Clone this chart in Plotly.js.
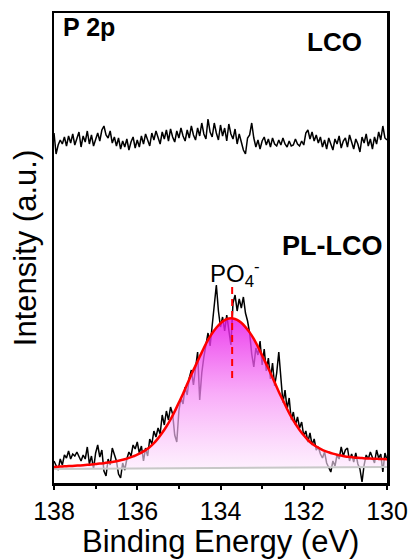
<!DOCTYPE html>
<html>
<head>
<meta charset="utf-8">
<script src="https://cdn.plot.ly/plotly-3.0.1.min.js"></script>
<style>html,body{margin:0;padding:0;background:#fff;}#chart{width:414px;height:559px;}</style>
</head>
<body>
<div id="chart"></div>
<script>
// Binding energy grid for raw spectra (eV), 138 -> 130, step 0.05
const energyRaw = [];
for (let i = 0; i <= 160; i++) energyRaw.push(+(138 - 0.05 * i).toFixed(2));

// LCO spectrum (arb. units, offset)
const lcoIntensity = [
  350,329,338,343,339,346,337,347,340,349,
  338,344,351,336,347,341,352,339,348,337,
  345,350,342,353,357,348,345,352,340,346,
  337,345,334,342,336,344,333,341,346,335,
  343,336,347,339,349,342,337,350,343,352,
  345,339,351,344,353,342,354,346,341,352,
  345,355,347,342,353,345,357,348,343,355,
  347,360,349,344,364,351,346,360,350,343,
  358,347,355,342,359,349,344,354,339,349,
  341,333,329,345,348,360,345,336,343,334,
  342,346,338,344,336,345,339,337,343,338,
  345,339,336,342,337,338,344,339,337,342,
  338,350,353,344,351,342,348,340,346,336,
  343,334,345,338,333,344,339,347,335,342,
  345,336,348,341,334,344,339,331,346,340,
  349,337,344,334,346,339,351,343,357,345,343
];

// PL-LCO spectrum (arb. units)
const pllcoIntensity = [
  22,17,13,24,18,28,25,32,24,29,
  27,31,26,22,28,24,36,19,27,14,
  30,38,26,33,12,7,24,18,35,29,
  22,9,5,20,13,24,31,27,38,34,
  41,30,37,22,35,27,44,39,52,46,
  55,49,68,58,72,63,76,69,48,41,
  72,85,79,96,88,105,113,98,118,131,
  83,110,126,140,150,137,158,176,198,172,
  156,166,152,168,155,138,180,188,172,184,
  175,186,170,162,150,129,116,135,128,142,
  118,134,112,125,104,120,97,110,131,101,
  80,93,74,85,63,71,58,66,55,61,
  47,52,41,50,38,44,33,36,29,25,
  31,20,16,11,22,17,28,24,36,27,
  33,35,22,29,21,30,19,14,1,18,
  28,24,31,26,20,33,25,29,11,30,23
];

// Fit curve (PO4- component), step 0.1 eV
const energyFit = [];
for (let i = 0; i <= 80; i++) energyFit.push(+(138 - 0.1 * i).toFixed(1));
const fitIntensity = [
  16.1,16.3,16.5,16.8,17.0,17.2,17.5,17.8,18.2,18.5,
  18.9,19.4,19.8,20.4,21.1,21.8,22.7,23.8,25.1,26.6,
  28.3,30.4,32.9,35.9,39.8,44.6,50.2,56.5,63.5,71.6,
  80.5,89.3,98.9,108.5,117.4,126.2,135.0,143.1,149.8,155.3,
  159.8,162.9,164.4,164.5,163.1,160.2,155.9,150.6,144.1,136.2,
  127.5,118.9,110.1,100.7,91.3,82.7,74.0,66.0,59.2,53.1,
  47.7,43.0,39.3,36.5,34.2,32.2,30.7,29.4,28.3,27.4,
  26.6,26.1,25.6,25.2,24.9,24.6,24.4,24.3,24.1,23.9,23.8
];

// Background line
const bgEnergy = [138, 130];
const bgIntensity = [14, 16];

// Peak marker
const peakEnergy = [133.72, 133.72];
const peakMarkY = [105, 201];

const xTicks = [138, 136, 134, 132, 130];

const FONT = 'Arial, "Liberation Sans", sans-serif';

const traces = [
  {x: energyRaw, y: pllcoIntensity, type: 'scatter', mode: 'lines',
   line: {color: '#000', width: 1.5}, hoverinfo: 'skip', showlegend: false},
  {x: energyRaw, y: lcoIntensity, type: 'scatter', mode: 'lines',
   line: {color: '#000', width: 1.5}, hoverinfo: 'skip', showlegend: false},
  {x: bgEnergy, y: bgIntensity, type: 'scatter', mode: 'lines',
   line: {color: '#c8c8c8', width: 2}, hoverinfo: 'skip', showlegend: false},
  {x: energyFit, y: fitIntensity, type: 'scatter', mode: 'lines',
   line: {color: '#ff0000', width: 2.5, shape: 'spline'},
   fill: 'tonexty',
   fillgradient: {type: 'vertical',
     colorscale: [[0, 'rgba(253,230,253,0.6)'], [0.5, 'rgba(246,140,246,0.72)'], [1, 'rgba(232,20,232,0.82)']]},
   hoverinfo: 'skip', showlegend: false},
  {x: peakEnergy, y: peakMarkY, type: 'scatter', mode: 'lines',
   line: {color: '#ff0000', width: 2, dash: '7px,5px'}, hoverinfo: 'skip', showlegend: false}
];

const layout = {
  width: 414, height: 559,
  margin: {l: 54, r: 27, t: 13, b: 76},
  paper_bgcolor: '#fff', plot_bgcolor: '#fff',
  font: {family: FONT, color: '#000'},
  showlegend: false,
  xaxis: {
    range: [138, 130], tickvals: xTicks, ticktext: xTicks.map(String),
    ticks: 'outside', ticklen: 4, tickwidth: 2, tickcolor: '#000',
    minor: {dtick: 1, ticks: 'outside', ticklen: 3, tickwidth: 2, tickcolor: '#000'},
    showline: true, linewidth: 2.5, linecolor: '#000', mirror: true,
    showgrid: false, zeroline: false, automargin: false,
    tickfont: {size: 25, family: FONT}
  },
  yaxis: {
    range: [0, 470], showticklabels: false, ticks: '',
    showline: true, linewidth: 2.5, linecolor: '#000', mirror: true,
    showgrid: false, zeroline: false,
    title: {text: 'Intensity (a.u.)', font: {size: 31, family: FONT}, standoff: 6}
  },
  annotations: [
    {text: 'Binding Energy (eV)', xref: 'paper', yref: 'paper', x: 0.5, y: -0.125, xanchor: 'center', yanchor: 'middle',
     showarrow: false, font: {size: 31, family: FONT}},
    {text: '<b>P 2p</b>', xref: 'paper', yref: 'paper', x: 0.02, y: 1.005, xanchor: 'left', yanchor: 'top',
     showarrow: false, font: {size: 25, family: FONT}},
    {text: '<b>LCO</b>', xref: 'x', yref: 'paper', x: 130.55, y: 0.938, xanchor: 'right', yanchor: 'middle',
     showarrow: false, font: {size: 26, family: FONT}},
    {text: '<b>PL-LCO</b>', xref: 'x', yref: 'paper', x: 130.05, y: 0.505, xanchor: 'right', yanchor: 'middle',
     showarrow: false, font: {size: 27, family: FONT}},
    {text: 'PO<sub>4</sub><sup>-</sup>', xref: 'x', yref: 'paper', x: 133.64, y: 0.445, xanchor: 'center', yanchor: 'middle',
     showarrow: false, font: {size: 24, family: FONT}}
  ]
};

Plotly.newPlot('chart', traces, layout, {displayModeBar: false, staticPlot: true});
</script>
</body>
</html>
